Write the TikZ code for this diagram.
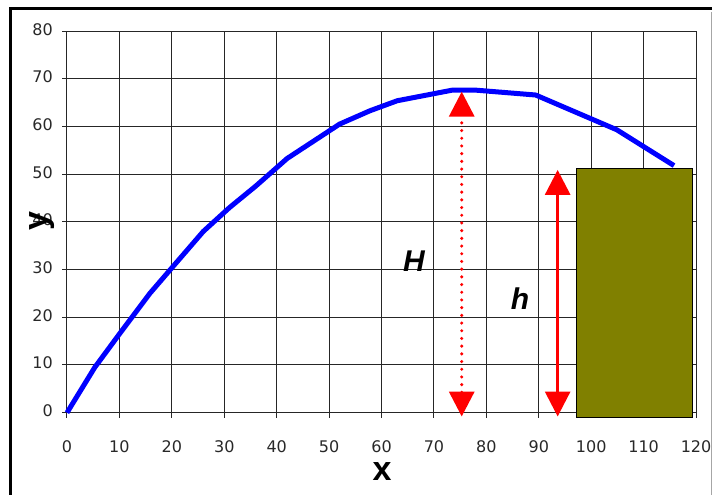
\documentclass[tikz,border=0pt]{standalone}
\usepackage{fontspec}
\setmainfont{DejaVu Sans}
\newfontfamily\titlefont{Liberation Sans}
\usepackage{tikz}
\usetikzlibrary{arrows.meta}
\usepackage{xcolor}
\definecolor{trajblue}{RGB}{0,0,255}
\definecolor{wallolive}{RGB}{128,128,0}
\definecolor{markred}{RGB}{255,0,0}
\definecolor{ticktext}{RGB}{40,40,40}

\tikzset{
    gridline/.style={line width=1pt, black!85},
    ticklabel/.style={font=\fontsize{16}{18}\selectfont, ticktext, inner sep=0pt},
    axistitle/.style={font=\titlefont\bfseries\fontsize{34}{36}\selectfont, inner sep=0pt},
    heightlabel/.style={font=\titlefont\bfseries\itshape\fontsize{30}{32}\selectfont, inner sep=0pt},
    heightarrow/.style={markred, line width=3pt,
        {Triangle[length=25pt,width=25pt]}-{Triangle[length=25pt,width=25pt]}},
}

\begin{document}
\begin{tikzpicture}[x=5.242pt, y=4.77pt]
    \useasboundingbox (-12.781,-17.254) rectangle (123.045,86.520);

    % --- outer frame ---
    \draw[line width=2.5pt] (-10.78,-17.254) |- (123.045,84.74);
    \draw[black!35, line width=0.8pt] (122.85,84.0) -- (122.85,-17.254);

    % --- grid and ticks ---
    \draw[gridline] (0,0) grid[step=10] (120,80);
    \foreach \xv in {0,10,...,120}{
        \draw[gridline] (\xv,0) -- (\xv,-1.1);
        \node[ticklabel] (xl\xv) at (\xv,-7.1) {\xv};
    }
    \foreach \yv in {0,10,...,80}{
        \draw[gridline] (0,\yv) -- (-1,\yv);
        \node[ticklabel, anchor=east] (yl\yv) at (-2.67,\yv+0.4) {\yv};
    }

    % Axis titles
    \node[axistitle] (xtitle) at (60.1,-12.4) {x};
    \node[axistitle, rotate=90] (ytitle) at (-4.77,40.2) {y};

    % --- trajectory ---
    \draw[trajblue, line width=5pt, line join=round] plot coordinates {
        (0,0) (5.3,9.5) (10,16.5) (15.8,25) (20.5,31) (26,38) (31,43)
        (36,47.5) (42,53.3) (52,60.5) (57.8,63.3) (63,65.4) (73.4,67.6)
        (78.2,67.6) (89.4,66.6) (104.9,59.3) (115.8,51.8)};

    % Wall
    \draw[fill=wallolive, line width=1.5pt] (97.2,-1.0) rectangle (119.3,51.2);

    % --- heights ---
    \coordinate (Htop) at (75.3,67.3);
    \coordinate (Hbot) at (75.3,-0.8);
    \draw[heightarrow, dash pattern=on 0pt off 7.7pt, line cap=round, line width=3.4pt] (Hbot) -- (Htop);
    \node[heightlabel] (Hlabel) at (66.2,31.8) {H};

    \coordinate (htop) at (93.6,50.9);
    \coordinate (hbot) at (93.6,-0.8);
    \draw[heightarrow] (hbot) -- (htop);
    \node[heightlabel] (hlabel) at (86.4,24.0) {h};
\end{tikzpicture}
\end{document}
